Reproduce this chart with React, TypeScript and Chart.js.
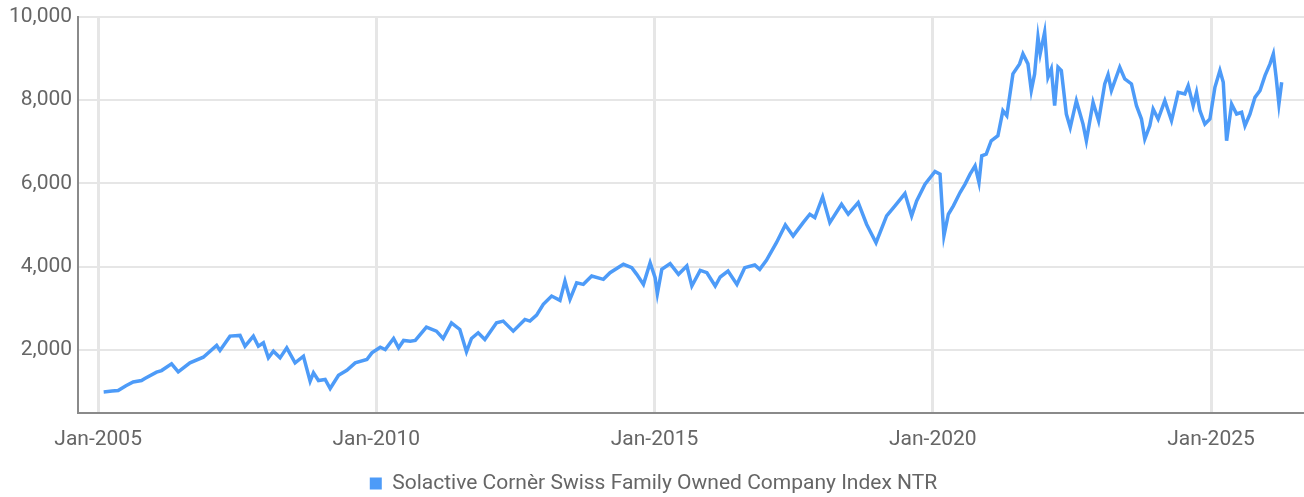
import React, { useEffect, useRef } from "react";
import { Chart, registerables } from "chart.js";

Chart.register(...registerables);

const seriesName = "Solactive Cornèr Swiss Family Owned Company Index NTR";

// decimal years
const dates = [
  2005.10, 2005.25, 2005.36, 2005.50, 2005.63, 2005.78, 2005.84, 2006.05, 2006.14, 2006.32,
  2006.44, 2006.65, 2006.89, 2007.13, 2007.19, 2007.37, 2007.55, 2007.64, 2007.79, 2007.88,
  2007.97, 2008.06, 2008.15, 2008.27, 2008.39, 2008.54, 2008.69, 2008.81, 2008.87, 2008.96,
  2009.08, 2009.17, 2009.32, 2009.47, 2009.62, 2009.83, 2009.92, 2010.07, 2010.16, 2010.31,
  2010.40, 2010.49, 2010.61, 2010.70, 2010.90, 2011.08, 2011.20, 2011.35, 2011.50, 2011.62,
  2011.71, 2011.83, 2011.95, 2012.16, 2012.28, 2012.46, 2012.67, 2012.76, 2012.88, 2013.00,
  2013.15, 2013.30, 2013.39, 2013.48, 2013.60, 2013.72, 2013.87, 2014.08, 2014.20, 2014.44,
  2014.59, 2014.68, 2014.80, 2014.92, 2015.01, 2015.05, 2015.13, 2015.28, 2015.43, 2015.58,
  2015.67, 2015.82, 2015.94, 2016.09, 2016.18, 2016.32, 2016.48, 2016.62, 2016.80, 2016.89,
  2017.01, 2017.19, 2017.35, 2017.49, 2017.67, 2017.79, 2017.88, 2018.02, 2018.15, 2018.36,
  2018.48, 2018.66, 2018.81, 2018.98, 2019.17, 2019.32, 2019.50, 2019.62, 2019.71, 2019.86,
  2020.04, 2020.13, 2020.20, 2020.28, 2020.37, 2020.49, 2020.58, 2020.67, 2020.76, 2020.83,
  2020.88, 2020.96, 2021.05, 2021.17, 2021.26, 2021.33, 2021.44, 2021.56, 2021.62, 2021.71,
  2021.77, 2021.83, 2021.89, 2021.93, 2022.01, 2022.07, 2022.13, 2022.19, 2022.25, 2022.31,
  2022.40, 2022.47, 2022.58, 2022.70, 2022.76, 2022.88, 2022.98, 2023.09, 2023.15, 2023.21,
  2023.36, 2023.45, 2023.57, 2023.66, 2023.75, 2023.81, 2023.90, 2023.96, 2024.05, 2024.17,
  2024.29, 2024.41, 2024.53, 2024.59, 2024.68, 2024.74, 2024.80, 2024.89, 2024.98, 2025.07,
  2025.16, 2025.22, 2025.28, 2025.37, 2025.46, 2025.55, 2025.61, 2025.70, 2025.79, 2025.88,
  2025.97, 2026.06, 2026.12, 2026.17, 2026.22, 2026.27,
];

const values = [
  1000, 1020, 1033, 1150, 1240, 1274, 1322, 1473, 1513, 1672,
  1480, 1697, 1833, 2114, 1994, 2338, 2355, 2097, 2338, 2097,
  2177, 1817, 1977, 1817, 2057, 1697, 1857, 1257, 1457, 1274,
  1298, 1082, 1401, 1521, 1697, 1777, 1937, 2073, 2017, 2282,
  2057, 2234, 2218, 2234, 2554, 2458, 2282, 2657, 2498, 1961,
  2282, 2418, 2258, 2657, 2698, 2458, 2738, 2698, 2842, 3099,
  3299, 3195, 3659, 3219, 3618, 3579, 3779, 3699, 3858, 4060,
  3979, 3819, 3579, 4098, 3739, 3354, 3939, 4075, 3819, 4019,
  3539, 3915, 3858, 3539, 3755, 3899, 3579, 3979, 4043, 3939,
  4155, 4578, 5004, 4740, 5059, 5260, 5180, 5676, 5059, 5499,
  5260, 5540, 5020, 4578, 5220, 5460, 5756, 5220, 5580, 5981,
  6284, 6221, 4740, 5260, 5460, 5780, 5981, 6221, 6421, 6020,
  6661, 6702, 7022, 7142, 7742, 7622, 8624, 8864, 9104, 8864,
  8223, 8624, 9503, 9104, 9623, 8544, 8744, 7862, 8784, 8703,
  7662, 7341, 7982, 7422, 7022, 7942, 7502, 8383, 8607, 8223,
  8784, 8503, 8383, 7862, 7542, 7062, 7382, 7782, 7542, 7982,
  7502, 8183, 8143, 8343, 7862, 8183, 7742, 7422, 7542, 8302,
  8703, 8423, 7022, 7902, 7662, 7702, 7382, 7662, 8062, 8223,
  8583, 8864, 9104, 8544, 7902, 8423,
];

const xTicks = [2005, 2010, 2015, 2020, 2025];
const yTicks = [2000, 4000, 6000, 8000, 10000];

const LINE = "#4d9bf8";
const TEXT = "#666666";
const FONT = "Roboto";

export default function App() {
  const ref = useRef<HTMLCanvasElement | null>(null);

  useEffect(() => {
    if (!ref.current) return;
    const chart = new Chart(ref.current, {
      type: "line",
      data: {
        datasets: [
          {
            label: seriesName,
            data: dates.map((d, i) => ({ x: d, y: values[i] })),
            borderColor: LINE,
            backgroundColor: LINE,
            borderWidth: 3.5,
            pointRadius: 0,
            tension: 0,
          },
        ],
      },
      options: {
        animation: false,
        responsive: true,
        maintainAspectRatio: false,
        layout: { padding: { left: 3, right: 0, top: 0, bottom: -7 } },
        plugins: {
          tooltip: { enabled: false },
          legend: {
            position: "bottom",
            labels: {
              color: TEXT,
              font: { family: FONT, size: 21 },
              boxWidth: 12,
              boxHeight: 12,
              padding: 7,
              generateLabels: (c: any) =>
                c.data.datasets.map((ds: any, i: number) => ({
                  text: ds.label,
                  fillStyle: LINE,
                  strokeStyle: LINE,
                  lineWidth: 0,
                  fontColor: TEXT,
                  datasetIndex: i,
                  hidden: false,
                })),
            },
          },
        },
        scales: {
          x: {
            type: "linear",
            min: 2004.641,
            max: 2026.671,
            afterBuildTicks: (s: any) => {
              s.ticks = xTicks.map((v) => ({ value: v }));
            },
            ticks: {
              color: TEXT,
              font: { family: FONT, size: 21 },
              padding: 14,
              maxRotation: 0,
              autoSkip: false,
              callback: (v: any) => "Jan-" + v,
            },
            grid: { color: "#e6e6e6", lineWidth: 3, drawTicks: false },
            border: { color: "#8a8a8a", width: 2 },
          },
          y: {
            type: "linear",
            min: 500,
            max: 10000,
            afterBuildTicks: (s: any) => {
              s.ticks = yTicks.map((v) => ({ value: v }));
            },
            ticks: {
              color: TEXT,
              font: { family: FONT, size: 21, lineHeight: 1.0 },
              padding: 6,
              callback: (v: any) => Number(v).toLocaleString("en-US"),
            },
            grid: { color: "#e6e6e6", lineWidth: 2, drawTicks: false },
            border: { color: "#8a8a8a", width: 2 },
          },
        },
      },
    });
    return () => chart.destroy();
  }, []);

  return (
    <div style={{ position: "absolute", left: 0, top: 0, width: 1304, height: 497 }}>
      <canvas ref={ref} />
    </div>
  );
}
